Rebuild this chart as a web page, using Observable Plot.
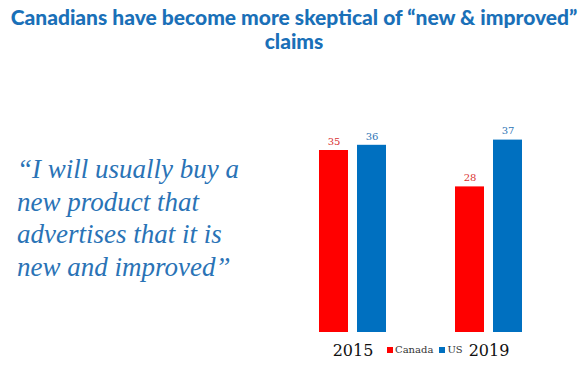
<!DOCTYPE html>
<html><head><meta charset="utf-8">
<script src="https://cdn.jsdelivr.net/npm/d3@7"></script>
<script src="https://cdn.jsdelivr.net/npm/@observablehq/plot@0.6"></script>
<style>
body{margin:0;background:#fff;width:588px;height:379px;overflow:hidden;position:relative;}
#title{position:absolute;left:0;top:5px;width:588px;text-align:center;font-family:Lato,sans-serif;font-weight:900;font-size:21px;line-height:24px;color:#1a70b8;}
#quote{position:absolute;left:17px;top:153px;font-family:"Liberation Serif",serif;font-style:italic;font-size:27px;line-height:32.5px;color:#2a73b6;}
#legend{position:absolute;left:387px;top:344px;font-family:"DejaVu Serif",serif;font-size:10px;color:#333;}
#legend span.sw{display:inline-block;width:6px;height:6px;margin-right:2px;}
#chart{position:absolute;left:0;top:0;}
</style></head><body>
<div id="chart"></div>
<div id="title">Canadians have become more skeptical of “new &amp; improved”<br>claims</div>
<div id="quote">“I will usually buy a<br>new product that<br>advertises that it is<br>new and improved”</div>
<div id="legend"></div>
<script>
const years = ["2015", "2019"];
const countries = ["Canada", "US"];
const canada = [35, 28];
const us = [36, 37];
const colors = ["#ff0000", "#0070c0"];
const labelColors = ["#d9302f", "#2e75b6"];

const data = [];
years.forEach((y, i) => {
  data.push({year: y, country: "Canada", value: canada[i]});
  data.push({year: y, country: "US", value: us[i]});
});

const chart = Plot.plot({
  width: 588, height: 379,
  marginLeft: 318, marginRight: 65, marginTop: 124, marginBottom: 47,
  fx: {domain: years, paddingInner: 0.493, paddingOuter: 0, label: null},
  x: {domain: countries, paddingInner: 0.23, paddingOuter: 0, axis: null},
  y: {domain: [0, 40], axis: null},
  color: {domain: countries, range: colors},
  style: {background: "transparent"},
  marks: [
    Plot.axisFx({anchor: "bottom", tickSize: 0, tickPadding: 12, fontSize: 16, fontFamily: "DejaVu Serif, serif", color: "#111", label: null}),
    Plot.barY(data, {fx: "year", x: "country", y: "value", fill: "country"}),
    Plot.text(data, {fx: "year", x: "country", y: "value", text: d => String(d.value), dy: -9,
      fill: d => labelColors[countries.indexOf(d.country)], fontSize: 10, fontFamily: "DejaVu Serif, serif"})
  ]
});
document.getElementById("chart").appendChild(chart);

const lg = document.getElementById("legend");
countries.forEach((c, i) => {
  const s = document.createElement("span");
  s.style.marginRight = "6px";
  s.innerHTML = `<span class="sw" style="background:${colors[i]}"></span>${c}`;
  lg.appendChild(s);
});
</script>
</body></html>
